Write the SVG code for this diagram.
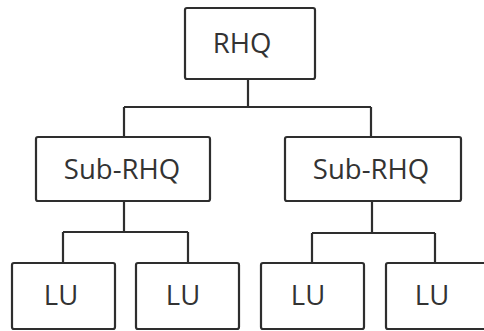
<svg xmlns="http://www.w3.org/2000/svg" width="484" height="331" viewBox="0 0 484 331">
  <style>
    .box { fill: #fff; stroke: #2e2e2e; stroke-width: 2.2; }
    .lbl { font-family: "Open Sans", "Liberation Sans", sans-serif; font-size: 27.5px; font-weight: 500; fill: #333; text-anchor: middle; }
    .wire { fill: none; stroke: #2e2e2e; stroke-width: 2.2; }
  </style>
  <rect width="484" height="331" fill="#fff"/>
  <g id="connectors">
    <path class="wire" d="M248 79 V107 M124 107 H371 M124 107 V137 M371 107 V137"/>
    <path class="wire" d="M124 201 V232 M63 232 H188 M63 232 V263 M188 232 V263"/>
    <path class="wire" d="M372 201 V233 M312 233 H435 M312 233 V263 M435 233 V263"/>
  </g>
  <g id="rhq">
    <rect class="box" x="185" y="8" width="130" height="71" rx="2"/>
    <text class="lbl" x="242" y="53">RHQ</text>
  </g>
  <g id="sub-rhq-1">
    <rect class="box" x="36" y="137" width="174" height="64" rx="2"/>
    <text class="lbl" x="122" y="179">Sub-RHQ</text>
  </g>
  <g id="sub-rhq-2">
    <rect class="box" x="285" y="137" width="176" height="64" rx="2"/>
    <text class="lbl" x="371" y="179">Sub-RHQ</text>
  </g>
  <g id="lu-1">
    <rect class="box" x="12" y="263" width="103" height="66" rx="2"/>
    <text class="lbl" x="61" y="305">LU</text>
  </g>
  <g id="lu-2">
    <rect class="box" x="136" y="263" width="103" height="66" rx="2"/>
    <text class="lbl" x="183" y="305">LU</text>
  </g>
  <g id="lu-3">
    <rect class="box" x="261" y="263" width="103" height="66" rx="2"/>
    <text class="lbl" x="308" y="305">LU</text>
  </g>
  <g id="lu-4">
    <rect class="box" x="386" y="263" width="103" height="66" rx="2"/>
    <text class="lbl" x="432" y="305">LU</text>
  </g>
</svg>
